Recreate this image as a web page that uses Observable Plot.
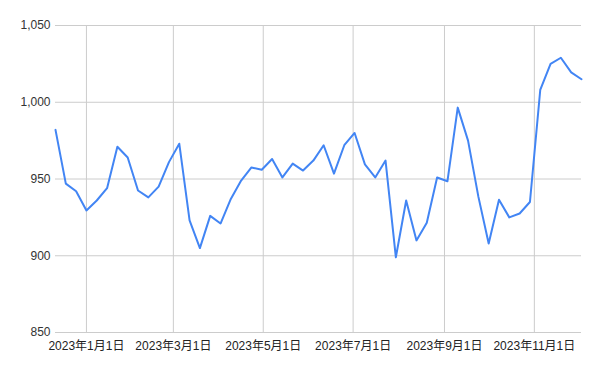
<!DOCTYPE html>
<html>
<head>
<meta charset="utf-8">
<script src="https://cdn.jsdelivr.net/npm/d3@7"></script>
<script src="https://cdn.jsdelivr.net/npm/@observablehq/plot@0.6"></script>
<style>
  html, body { margin: 0; padding: 0; background: #fff; }
  #chart svg { font-family: Arial, "Liberation Sans", "Noto Sans CJK JP", sans-serif; }
</style>
</head>
<body>
<div id="chart"></div>
<script>
const startDate = "2022-12-11";
const values = [
  982, 947, 942, 929.5, 936, 944, 971, 964, 942.5, 938,
  945, 961, 973, 923, 905, 926, 921, 937, 949, 957.5,
  956, 963, 951, 960, 955.5, 962, 972, 953.5, 972, 980,
  959.5, 951, 962, 899, 936, 910, 921.5, 951, 948.5, 996.5,
  975, 938.5, 908, 936.5, 925, 927.5, 935, 1008, 1025, 1029,
  1019.5, 1015
];
const xTickDates = ["2023-01-01", "2023-03-01", "2023-05-01", "2023-07-01", "2023-09-01", "2023-11-01"];
const yTicks = [850, 900, 950, 1000, 1050];

const start = new Date(startDate + "T00:00:00");
const data = values.map((v, i) => ({ date: d3.timeDay.offset(start, 7 * i), value: v }));
const xTicks = xTickDates.map(s => new Date(s + "T00:00:00"));
const fmtDate = d => `${d.getFullYear()}年${d.getMonth() + 1}月${d.getDate()}日`;

const chart = Plot.plot({
  width: 600,
  height: 371,
  marginLeft: 55,
  marginRight: 19,
  marginTop: 25,
  marginBottom: 39,
  style: { fontSize: "12px", color: "#222", background: "#fff" },
  x: {
    type: "time",
    domain: [data[0].date, data[data.length - 1].date],
    ticks: xTicks,
    tickFormat: fmtDate,
    tickSize: 0,
    tickPadding: 9,
    label: null
  },
  y: {
    domain: [850, 1050],
    ticks: yTicks,
    tickFormat: d3.format(","),
    tickSize: 0,
    tickPadding: 5,
    label: null
  },
  marks: [
    Plot.gridY(yTicks, { stroke: "#cccccc", strokeOpacity: 1, strokeWidth: 1 }),
    Plot.gridX(xTicks, { stroke: "#cccccc", strokeOpacity: 1, strokeWidth: 1 }),
    Plot.axisY({ ticks: yTicks, tickFormat: d3.format(","), tickSize: 0, tickPadding: 5, fill: "#333" }),
    Plot.axisX({ ticks: xTicks, tickFormat: fmtDate, tickSize: 0, tickPadding: 9, fill: "#222" }),
    Plot.lineY(data, { x: "date", y: "value", stroke: "#4285f4", strokeWidth: 2, strokeLinejoin: "round" })
  ]
});
document.getElementById("chart").appendChild(chart);
</script>
</body>
</html>
